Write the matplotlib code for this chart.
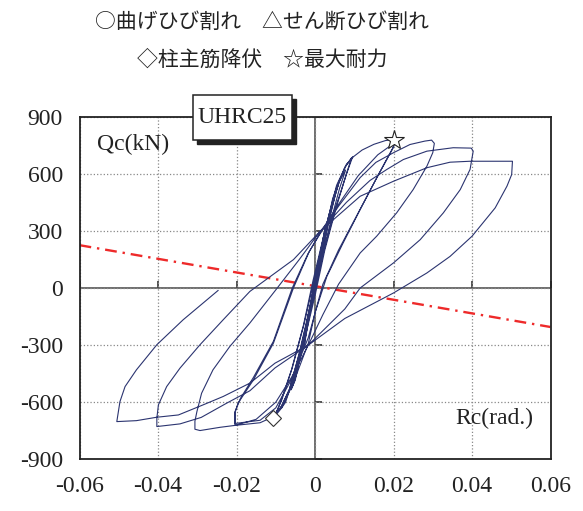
import matplotlib
matplotlib.use("Agg")
import matplotlib.pyplot as plt
import numpy as np
from matplotlib.patches import Rectangle

plt.rcParams['font.family'] = ['Liberation Serif', 'DejaVu Serif']
plt.rcParams['axes.unicode_minus'] = False

# ---- data: drift angle Rc (rad.) and shear Qc (kN) ----
# small cycles +-0.0025
rc_s1 = [0, 0.0013, 0.0027, 0.0010, -0.0004, -0.0016, -0.0029, -0.0012, 0.0004]
qc_s1 = [0, 160, 330, 140, 0, -150, -320, -120, 40]
# cycles +-0.005 (x2)
rc_s2 = [0.0027, 0.0045, 0.0056, 0.0036, 0.0010, -0.0010, -0.0031, -0.0050, -0.0059,
         -0.0038, -0.0015, 0.0005, 0.0030, 0.0050, 0.0058, 0.0036, 0.0008, -0.0012,
         -0.0033, -0.0052, -0.0061, -0.0040, -0.0017, 0.0003]
qc_s2 = [300, 470, 530, 380, 100, -90, -300, -480, -525,
         -370, -120, 70, 330, 490, 535, 370, 70, -120,
         -320, -490, -535, -380, -140, 40]
# cycles +-0.0075
rc_s2b = [0.0035, 0.0062, 0.0078, 0.0062, 0.0035, 0.0008, -0.0020, -0.0050, -0.0075,
          -0.0085, -0.0066, -0.0040, -0.0012, 0.0012]
qc_s2b = [310, 520, 620, 560, 380, 120, -170, -440, -600,
          -630, -540, -340, -90, 150]
# cycles +-0.01 (x2)
rc_s3 = [0.0030, 0.0055, 0.0075, 0.0093, 0.0080, 0.0055, 0.0025, 0.0000, -0.0030,
         -0.0060, -0.0085, -0.0103, -0.0088, -0.0060, -0.0030, -0.0005, 0.0025, 0.0055,
         0.0078, 0.0096, 0.0082, 0.0052, 0.0022, -0.0003, -0.0035, -0.0065, -0.0090, -0.0100]
qc_s3 = [300, 520, 630, 684, 600, 430, 200, -40, -300,
         -520, -630, -676, -600, -430, -200, 40, 300, 530,
         640, 690, 610, 420, 190, -40, -310, -530, -640, -660]
# +0.02 (1st)
rc_s4 = [-0.0085, -0.0058, -0.0028, 0.0000, 0.0025, 0.0055, 0.0080, 0.0098, 0.0120,
         0.0150, 0.0180, 0.0204]
qc_s4 = [-590, -420, -190, 60, 300, 540, 650, 690, 725, 755, 775, 780]
# -0.02 (1st)
rc_s5 = [0.0198, 0.0160, 0.0115, 0.0070, 0.0030, 0.0000, -0.0017, -0.0050, -0.0085,
         -0.0110, -0.0140, -0.0204]
qc_s5 = [735, 590, 412, 230, 60, -130, -290, -470, -620, -680, -708, -722]
# +0.02 (2nd)
rc_s6 = [-0.0204, -0.0196, -0.0157, -0.0106, -0.0055, -0.0015, 0.0013, 0.0060, 0.0110,
         0.0160, 0.0204]
qc_s6 = [-656, -605, -483, -290, 0, 190, 290, 440, 590, 700, 765]
# -0.02 (2nd)
rc_s7 = [0.0200, 0.0155, 0.0110, 0.0060, 0.0020, -0.0017, -0.0060, -0.0100, -0.0140,
         -0.0204]
qc_s7 = [740, 570, 395, 200, 20, -260, -480, -630, -695, -712]
# +0.03
rc_s8 = [-0.0204, -0.0190, -0.0157, -0.0106, -0.0058, -0.0018, 0.0013, 0.0060, 0.0115,
         0.0155, 0.0200, 0.0242, 0.0280, 0.0297, 0.0304]
qc_s8 = [-650, -580, -470, -280, 0, 180, 285, 430, 580, 660, 711, 754, 772, 777, 760]
# -0.03
rc_s9 = [0.0300, 0.0285, 0.0250, 0.0208, 0.0157, 0.0115, 0.0060, 0.0020, -0.0017,
         -0.0060, -0.0100, -0.0150, -0.0204, -0.0242, -0.0293, -0.0306]
qc_s9 = [711, 640, 517, 395, 272, 184, 20, -140, -300,
         -470, -600, -690, -722, -732, -749, -742]
# +0.04
rc_s10 = [-0.0306, -0.0301, -0.0289, -0.0260, -0.0217, -0.0166, -0.0100, -0.0040, 0.0013,
          0.0080, 0.0140, 0.0183, 0.0225, 0.0285, 0.0352, 0.0398]
qc_s10 = [-700, -650, -553, -430, -307, -184, -10, 150, 298,
          450, 565, 623, 675, 719, 737, 735]
# -0.04
rc_s11 = [0.0403, 0.0395, 0.0370, 0.0327, 0.0268, 0.0200, 0.0115, 0.0076, -0.0017,
          -0.0102, -0.0166, -0.0225, -0.0290, -0.0344, -0.0403]
qc_s11 = [719, 623, 517, 395, 254, 132, 0, -110, -300,
          -420, -540, -605, -680, -714, -728]
# +0.05
rc_s12 = [-0.0403, -0.0399, -0.0378, -0.0344, -0.0293, -0.0234, -0.0166, -0.0055, 0.0013,
          0.0115, 0.0200, 0.0285, 0.0344, 0.0395, 0.0503]
qc_s12 = [-684, -614, -518, -421, -298, -167, -18, 149, 298,
          482, 561, 632, 661, 666, 666]
# -0.05
rc_s13 = [0.0501, 0.0489, 0.0459, 0.0400, 0.0344, 0.0285, 0.0200, 0.0076, -0.0017,
          -0.0102, -0.0166, -0.0234, -0.0285, -0.0348, -0.0403, -0.0455, -0.0505]
qc_s13 = [596, 535, 421, 272, 166, 79, -26, -160, -300,
          -395, -500, -570, -614, -667, -679, -697, -702]
# final unloading
rc_s14 = [-0.0497, -0.0484, -0.0455, -0.0403, -0.0336, -0.0247]
qc_s14 = [-597, -518, -430, -298, -167, -13]

rc_list = [rc_s1, rc_s2, rc_s2b, rc_s3, rc_s4, rc_s5, rc_s6, rc_s7, rc_s8, rc_s9,
           rc_s10, rc_s11, rc_s12, rc_s13, rc_s14]
qc_list = [qc_s1, qc_s2, qc_s2b, qc_s3, qc_s4, qc_s5, qc_s6, qc_s7, qc_s8, qc_s9,
           qc_s10, qc_s11, qc_s12, qc_s13, qc_s14]

# events
yield_rc, yield_qc = -0.0106, -681
max_rc, max_qc = 0.0200, 780

# P-delta line
pd_rc = [-0.06, 0.06]
pd_qc = [225, -205]

x_ticks = [-0.06, -0.04, -0.02, 0, 0.02, 0.04, 0.06]
x_tick_labels = ['-0.06', '-0.04', '-0.02', '0', '0.02', '0.04', '0.06']
y_ticks = [-900, -600, -300, 0, 300, 600, 900]
y_tick_labels = ['-900', '-600', '-300', '0', '300', '600', '900']

fig = plt.figure(figsize=(5.83, 5.11), dpi=100)
ax = fig.add_axes([0.1364, 0.1012, 0.8079, 0.6704])

ax.set_xlim(-0.06, 0.06)
ax.set_ylim(-900, 900)
ax.set_xticks(x_ticks)
ax.set_xticklabels(x_tick_labels)
ax.set_yticks(y_ticks)
ax.set_yticklabels(y_tick_labels)
ax.tick_params(length=0, labelsize=17, pad=12, colors='#222222')
for s in ax.spines.values():
    s.set_linewidth(1.3)
    s.set_color('#222222')

ax.grid(True, color='#888888', linestyle=':', linewidth=0.9)
ax.axhline(0, color='#555555', lw=1.2, zorder=1)
ax.axvline(0, color='#555555', lw=1.2, zorder=1)
# small ticks on the centre axes
ax.plot([t for t in x_ticks if t != 0], [0] * 6, ls='none', marker=2, ms=5,
        mew=1.2, color='#333333', zorder=1)
ax.plot([0] * 6, [t for t in y_ticks if t != 0], ls='none', marker=1, ms=5,
        mew=1.2, color='#333333', zorder=1)

rc_all = np.concatenate(rc_list)
qc_all = np.concatenate(qc_list)
ax.plot(rc_all, qc_all, color='#2b3470', lw=0.8, zorder=3)

ax.plot(pd_rc, pd_qc, color='#ee2a2a', lw=1.7, dashes=(5, 2.5, 1, 2.5), zorder=2)

ax.plot(yield_rc, yield_qc, marker='D', ms=8, mfc='white', mec='#333333', mew=0.8,
        zorder=4)
ax.plot(max_rc, max_qc, marker='*', ms=15, mfc='white', mec='#222222', mew=0.8,
        zorder=4, clip_on=False)

ax.text(-0.0555, 755, 'Qc(kN)', fontsize=17, va='center', ha='left', color='#222222')
ax.text(0.0556, -684, 'Rc(rad.)', fontsize=17, va='center', ha='right', color='#222222')

# title box with shadow
fig.add_artist(Rectangle((0.331 + 4 / 583, 0.726 - 4 / 511), 0.170, 0.088,
                         transform=fig.transFigure, facecolor='#222222',
                         edgecolor='#222222', zorder=5))
fig.add_artist(Rectangle((0.331, 0.726), 0.170, 0.088, transform=fig.transFigure,
                         facecolor='white', edgecolor='#222222', lw=1.1, zorder=6))
fig.text(0.416, 0.770, 'UHRC25', fontsize=17, ha='center', va='center',
         color='#222222', zorder=7)

jp = ['Noto Sans CJK JP', 'DejaVu Sans']
fig.text(0.45, 0.958, '○曲げひび割れ　△せん断ひび割れ', fontsize=15, family=jp,
         ha='center', va='center', color='#222222')
fig.text(0.45, 0.884, '◇柱主筋降伏　☆最大耐力', fontsize=15, family=jp,
         ha='center', va='center', color='#222222')

plt.savefig('out.png', dpi=100)
